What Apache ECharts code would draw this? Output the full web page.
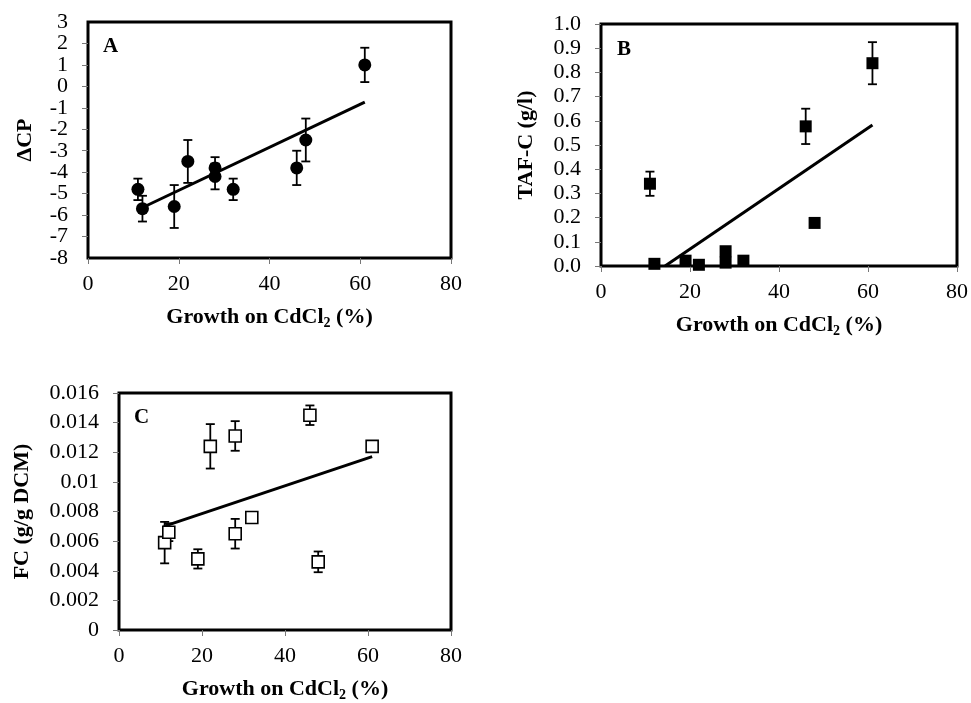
<!DOCTYPE html>
<html>
<head>
<meta charset="utf-8">
<script src="https://cdn.jsdelivr.net/npm/echarts@6/dist/echarts.min.js"></script>
<style>
  html, body { margin: 0; padding: 0; background: #fff; }
  #chart { width: 971px; height: 703px; }
</style>
</head>
<body>
<div id="chart"></div>
<script>
// growth on CdCl2 (%) - same strains in all three panels
var growth = [11, 12, 19, 22, 28, 28, 32, 46, 48, 61];

// panel A: delta CP
var dcp    = [-4.8, -5.7, -5.6, -3.5, -3.8, -4.2, -4.8, -3.8, -2.5, 1.0];
var dcpErr = [0.5, 0.6, 1.0, 1.0, 0.5, 0.6, 0.5, 0.8, 1.0, 0.8];
var dcpTrend = [[12.5, -5.6], [61, -0.73]];

// panel B: TAF-C (g/l)
var tafc    = [0.34, 0.009, 0.022, 0.005, 0.061, 0.014, 0.022, 0.577, 0.178, 0.838];
var tafcErr = [0.05, 0, 0, 0, 0, 0, 0, 0.073, 0, 0.087];
var tafcTrend = [[14.4, 0], [61, 0.583]];

// panel C: FC (g/g DCM)
var fc    = [0.0059, 0.0066, 0.0048, 0.0124, 0.0131, 0.0065, 0.0076, 0.0145, 0.0046, 0.0124];
var fcErr = [0.0014, 0.0006, 0.00065, 0.0015, 0.001, 0.001, 0, 0.00066, 0.0007, 0];
var fcTrend = [[10.8, 0.0070], [61, 0.0117]];

var serif = 'Liberation Serif';
var black = '#000';

function pairs(xs, ys) {
    var out = [];
    for (var i = 0; i < xs.length; i++) out.push([xs[i], ys[i]]);
    return out;
}

function errTriples(xs, ys, es) {
    var out = [];
    for (var i = 0; i < xs.length; i++) {
        if (es[i] > 0) out.push([xs[i], ys[i], es[i]]);
    }
    return out;
}

// vertical error bar with caps
function errorBar(params, api) {
    var x = api.value(0), y = api.value(1), e = api.value(2);
    var hi = api.coord([x, y + e]);
    var lo = api.coord([x, y - e]);
    var hw = 4.5;
    var st = { stroke: black, lineWidth: 1.8 };
    return {
        type: 'group',
        children: [
            { type: 'line', shape: { x1: hi[0], y1: hi[1], x2: lo[0], y2: lo[1] }, style: st },
            { type: 'line', shape: { x1: hi[0] - hw, y1: hi[1], x2: hi[0] + hw, y2: hi[1] }, style: st },
            { type: 'line', shape: { x1: lo[0] - hw, y1: lo[1], x2: lo[0] + hw, y2: lo[1] }, style: st }
        ]
    };
}

var xName = 'Growth on CdCl{s|2} (%)';
var nameStyle = {
    fontFamily: serif, fontWeight: 'bold', fontSize: 22, color: black,
    rich: { s: { fontFamily: serif, fontWeight: 'bold', fontSize: 14, color: black, padding: [12, 0, 0, 0] } }
};
var labelStyle = {
    fontFamily: serif, fontSize: 22, color: black,
    showMinLabel: true, showMaxLabel: true, hideOverlap: false
};

function xAxisFor(idx) {
    return {
        type: 'value', gridIndex: idx, min: 0, max: 80, interval: 20,
        name: xName, nameLocation: 'middle', nameGap: 46, nameTextStyle: nameStyle,
        axisLine: { show: false, onZero: false },
        axisTick: { show: true, length: 6, lineStyle: { color: '#777', width: 1 } },
        axisLabel: Object.assign({ margin: 15 }, labelStyle),
        splitLine: { show: false }
    };
}

function yAxisFor(idx, min, max, step, name, gap, fmt) {
    return {
        type: 'value', gridIndex: idx, min: min, max: max, interval: step,
        name: name, nameLocation: 'middle', nameGap: gap,
        nameTextStyle: { fontFamily: serif, fontWeight: 'bold', fontSize: 22, color: black },
        axisLine: { show: false, onZero: false },
        axisTick: { show: true, length: 6, lineStyle: { color: '#777', width: 1 } },
        axisLabel: Object.assign({ margin: 20, formatter: fmt }, labelStyle),
        splitLine: { show: false }
    };
}

// panel A labels sit so close that echarts drops the ones next to -8 and 3;
// main axis shows the inner labels, a bare twin axis adds the two end labels
var yA = yAxisFor(0, -8, 3, 1, 'ΔCP', 52);
yA.axisLabel.showMinLabel = false;
yA.axisLabel.showMaxLabel = false;
var yAEnds = {
    type: 'value', gridIndex: 0, min: -8, max: 3, interval: 1, position: 'left',
    axisLine: { show: false, onZero: false }, axisTick: { show: false }, splitLine: { show: false },
    axisLabel: Object.assign({}, labelStyle, {
        margin: 20,
        formatter: function (v) { return (v === -8 || v === 3) ? String(v) : ''; }
    })
};

function panelSeries(idx, ys, es, trend, marker) {
    return [
        {
            type: 'custom', xAxisIndex: idx, yAxisIndex: idx, z: 2,
            renderItem: errorBar, data: errTriples(growth, ys, es), silent: true
        },
        {
            type: 'line', xAxisIndex: idx, yAxisIndex: idx, z: 3,
            data: trend, showSymbol: false, symbol: 'none',
            lineStyle: { color: black, width: 3 }, silent: true
        },
        Object.assign({
            type: 'scatter', xAxisIndex: idx, yAxisIndex: idx, z: 4,
            data: pairs(growth, ys), silent: true
        }, marker)
    ];
}

var gridStyle = { show: true, borderColor: black, borderWidth: 3, backgroundColor: 'transparent' };

var option = {
    animation: false,
    backgroundColor: '#fff',
    grid: [
        Object.assign({ left: 88, top: 22, width: 363, height: 236 }, gridStyle),
        Object.assign({ left: 601, top: 24, width: 359, height: 242 }, gridStyle),
        Object.assign({ left: 119, top: 393, width: 332, height: 238 }, gridStyle)
    ],
    xAxis: [xAxisFor(0), xAxisFor(1), xAxisFor(2)],
    yAxis: [
        yA,
        yAxisFor(1, 0, 1, 0.1, 'TAF-C (g/l)', 64, function (v) { return v.toFixed(1); }),
        yAxisFor(2, 0, 0.016, 0.002, 'FC (g/g DCM)', 86, function (v) { return v === 0 ? '0' : String(+v.toFixed(3)); }),
        yAEnds
    ],
    graphic: [
        { type: 'text', left: 103, top: 36, style: { text: 'A', font: 'bold 21px "Liberation Serif"', fill: black } },
        { type: 'text', left: 617, top: 39, style: { text: 'B', font: 'bold 21px "Liberation Serif"', fill: black } },
        { type: 'text', left: 134, top: 407, style: { text: 'C', font: 'bold 21px "Liberation Serif"', fill: black } }
    ],
    series: [].concat(
        panelSeries(0, dcp, dcpErr, dcpTrend, { symbol: 'circle', symbolSize: 13, itemStyle: { color: black, opacity: 1 } }),
        panelSeries(1, tafc, tafcErr, tafcTrend, { symbol: 'rect', symbolSize: 12, itemStyle: { color: black, opacity: 1 } }),
        panelSeries(2, fc, fcErr, fcTrend, { symbol: 'rect', symbolSize: 12, itemStyle: { color: '#fff', borderColor: black, borderWidth: 1.6, opacity: 1 } })
    )
};

var myChart = echarts.init(document.getElementById('chart'));
myChart.setOption(option);
</script>
</body>
</html>
